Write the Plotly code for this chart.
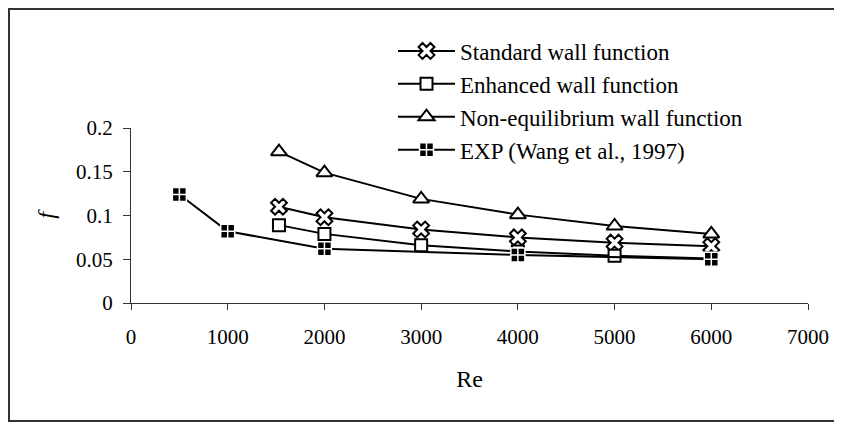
import plotly.graph_objects as go

std_x = [1530, 2000, 3000, 4000, 5000, 6000]
std_y = [0.110, 0.098, 0.084, 0.075, 0.069, 0.065]
enh_x = [1530, 2000, 3000, 4000, 5000, 6000]
enh_y = [0.089, 0.079, 0.066, 0.059, 0.054, 0.051]
neq_x = [1530, 2000, 3000, 4000, 5000, 6000]
neq_y = [0.173, 0.149, 0.119, 0.101, 0.088, 0.079]
exp_x = [500, 1000, 2000, 4000, 6000]
exp_y = [0.124, 0.082, 0.062, 0.055, 0.050]

x_ticks = [0, 1000, 2000, 3000, 4000, 5000, 6000, 7000]
y_ticks = [0, 0.05, 0.1, 0.15, 0.2]
y_tick_text = ["0", "0.05", "0.1", "0.15", "0.2"]

FONT = "Liberation Serif, serif"

fig = go.Figure()
line = dict(color="black", width=2)
fig.add_trace(go.Scatter(x=std_x, y=std_y, mode="lines+markers", name="Standard wall function",
                         line=line, marker=dict(symbol="x", size=14, color="white",
                                                line=dict(color="black", width=2))))
fig.add_trace(go.Scatter(x=enh_x, y=enh_y, mode="lines+markers", name="Enhanced wall function",
                         line=line, marker=dict(symbol="square", size=12, color="white",
                                                line=dict(color="black", width=2))))
fig.add_trace(go.Scatter(x=neq_x, y=neq_y, mode="lines+markers", name="Non-equilibrium wall function",
                         line=line, marker=dict(symbol="triangle-up", size=14, color="white",
                                                line=dict(color="black", width=2))))
fig.add_trace(go.Scatter(x=exp_x, y=exp_y, mode="lines+markers", name="EXP (Wang et al., 1997)",
                         line=line, marker=dict(symbol="square-cross", size=14, color="black",
                                                line=dict(color="white", width=1.5))))

fig.update_layout(
    width=834, height=415,
    margin=dict(l=123, r=34, t=120, b=120),
    paper_bgcolor="white", plot_bgcolor="white",
    font=dict(family=FONT, color="black", size=21),
    showlegend=True,
    legend=dict(x=0.387, y=1.563, xanchor="left", yanchor="top", itemwidth=57,
                font=dict(family=FONT, size=23, color="black"),
                bgcolor="rgba(0,0,0,0)", tracegroupgap=0),
    xaxis=dict(range=[0, 7000], tickvals=x_ticks, tickformat="d",
               showline=True, linecolor="#333333", linewidth=1,
               ticks="outside", ticklen=6, tickcolor="#333333", showgrid=False, zeroline=False,
               ticklabelstandoff=9,
               title=dict(text="Re", font=dict(family=FONT, size=24), standoff=21),
               tickfont=dict(family=FONT, size=21)),
    yaxis=dict(range=[0, 0.2], tickvals=y_ticks, ticktext=y_tick_text,
               showline=True, linecolor="#333333", linewidth=1,
               ticks="outside", ticklen=7, tickcolor="#333333", showgrid=False, zeroline=False,
               ticklabelstandoff=6,
               title=dict(text="<i>f</i>", font=dict(family=FONT, size=24), standoff=14),
               tickfont=dict(family=FONT, size=21)),
    shapes=[dict(type="rect", xref="paper", yref="paper",
                 x0=-0.1802, x1=1.0428, y0=-0.674, y1=1.68,
                 line=dict(color="#333333", width=2))],
)

fig.write_html("out.html")
